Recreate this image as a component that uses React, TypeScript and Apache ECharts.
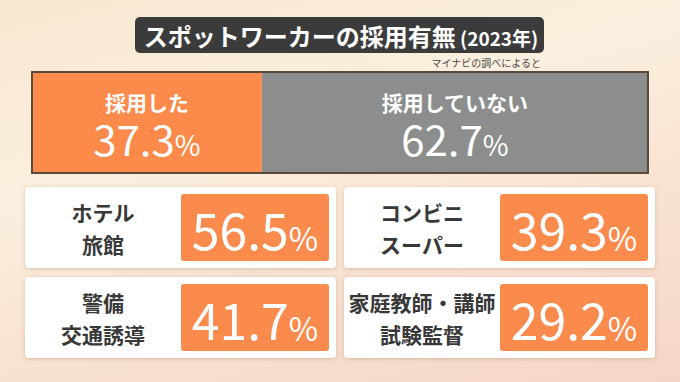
import React, { useEffect, useRef } from "react";
import * as echarts from "echarts";

const titleMain = "スポットワーカーの採用有無";
const titleYear = " (2023年)";
const sourceNote = "マイナビの調べによると";

const topLabels = ["採用した", "採用していない"];
const topValues = [37.3, 62.7];
const topColors = ["#fb8a4b", "#8b8e8c"];

const cardLines = [
  ["ホテル", "旅館"],
  ["コンビニ", "スーパー"],
  ["警備", "交通誘導"],
  ["家庭教師・講師", "試験監督"],
];
const cardValues = [56.5, 39.3, 41.7, 29.2];

const FONT = '"Noto Sans CJK JP", "Noto Sans", sans-serif';

export default function App() {
  const ref = useRef<HTMLDivElement>(null);

  useEffect(() => {
    document.body.style.margin = "0";
    const chart = echarts.init(ref.current!, null, { renderer: "svg" });

    const colLeft = [25, 344];
    const rowTop = [187, 277];
    const cardW = 311;
    const cardH = 81;

    const cardGraphics: any[] = [];
    cardLines.forEach((lines, i) => {
      const left = colLeft[i % 2];
      const top = rowTop[Math.floor(i / 2)];
      cardGraphics.push({
        type: "rect",
        shape: { x: left, y: top, width: cardW, height: cardH, r: 4 },
        style: {
          fill: "#ffffff",
          shadowBlur: 4,
          shadowColor: "rgba(120,80,50,0.25)",
          shadowOffsetY: 1,
        },
        z: 1,
      });
      const boxX = left + 156;
      const boxY = top + 7;
      const boxW = 148;
      const boxH = 67;
      cardGraphics.push({
        type: "rect",
        shape: { x: boxX, y: boxY, width: boxW, height: boxH, r: 3 },
        style: { fill: "#fb8a4d" },
        z: 2,
      });
      lines.forEach((ln, j) => {
        cardGraphics.push({
          type: "text",
          x: left + 78,
          y: top + 25 + j * 32,
          style: {
            text: ln,
            fill: "#383838",
            font: `bold 21px ${FONT}`,
            align: "center",
            verticalAlign: "middle",
          },
          z: 3,
        });
      });
      cardGraphics.push({
        type: "text",
        x: boxX + boxW / 2,
        y: boxY + boxH / 2,
        style: {
          text: `{v|${cardValues[i].toFixed(1)}}{p|%}`,
          align: "center",
          verticalAlign: "middle",
          rich: {
            v: {
              fontSize: 50,
              fontFamily: FONT,
              fontWeight: "normal",
              fill: "#ffffff",
              color: "#ffffff",
              lineHeight: 50,
              verticalAlign: "bottom",
            },
            p: {
              fontSize: 32,
              fontFamily: FONT,
              fontWeight: "normal",
              fill: "#ffffff",
              color: "#ffffff",
              lineHeight: 32,
              verticalAlign: "bottom",
            },
          },
        },
        z: 3,
      });
    });

    const option: any = {
      animation: false,
      grid: { left: 32, top: 72, width: 616, height: 101 },
      xAxis: { type: "value", min: 0, max: 100, show: false },
      yAxis: { type: "category", data: ["x"], show: false },
      series: topLabels.map((name, i) => ({
        type: "bar",
        name,
        stack: "all",
        barWidth: "100%",
        data: [topValues[i]],
        itemStyle: { color: topColors[i] },
        label: {
          show: true,
          position: "inside",
          formatter: () =>
            `{l|${name}}\n{v|${topValues[i].toFixed(1)}}{p|%}`,
          rich: {
            l: {
              fontSize: 21,
              fontWeight: "bold",
              fontFamily: FONT,
              color: "#ffffff",
              lineHeight: 30,
              align: "center",
            },
            v: {
              fontSize: 42,
              fontWeight: "normal",
              fontFamily: FONT,
              color: "#ffffff",
              lineHeight: 42,
              verticalAlign: "bottom",
            },
            p: {
              fontSize: 28,
              fontWeight: "normal",
              fontFamily: FONT,
              color: "#ffffff",
              lineHeight: 28,
              verticalAlign: "bottom",
            },
          },
        },
      })),
      graphic: [
        {
          type: "rect",
          shape: { x: 32, y: 72, width: 616, height: 101 },
          style: { fill: "none", stroke: "#5a4a3c", lineWidth: 2 },
          z: 10,
        },
        {
          type: "rect",
          shape: { x: 135, y: 17, width: 409, height: 36, r: 5 },
          style: { fill: "#3b3b3b" },
          z: 1,
        },
        {
          type: "text",
          x: 341,
          y: 35,
          style: {
            text: `{a|${titleMain}}{b|${titleYear}}`,
            align: "center",
            verticalAlign: "middle",
            rich: {
              a: {
                fontSize: 24,
                fontWeight: "bold",
                fontFamily: FONT,
                fill: "#ffffff",
                color: "#ffffff",
                lineHeight: 24,
                verticalAlign: "bottom",
              },
              b: {
                fontSize: 19,
                fontWeight: "bold",
                fontFamily: FONT,
                fill: "#ffffff",
                color: "#ffffff",
                lineHeight: 19,
                verticalAlign: "bottom",
              },
            },
          },
          z: 2,
        },
        {
          type: "text",
          x: 541,
          y: 62,
          style: {
            text: sourceNote,
            fill: "#4a4a4a",
            font: `10px ${FONT}`,
            align: "right",
            verticalAlign: "middle",
          },
          z: 2,
        },
        ...cardGraphics,
      ],
    };

    chart.setOption(option);
    return () => chart.dispose();
  }, []);

  return (
    <div
      ref={ref}
      style={{
        width: 680,
        height: 382,
        background:
          "linear-gradient(165deg, #f8e7d0 0%, #fbefdf 35%, #f8e0cf 70%, #f5d6c6 100%)",
      }}
    />
  );
}
